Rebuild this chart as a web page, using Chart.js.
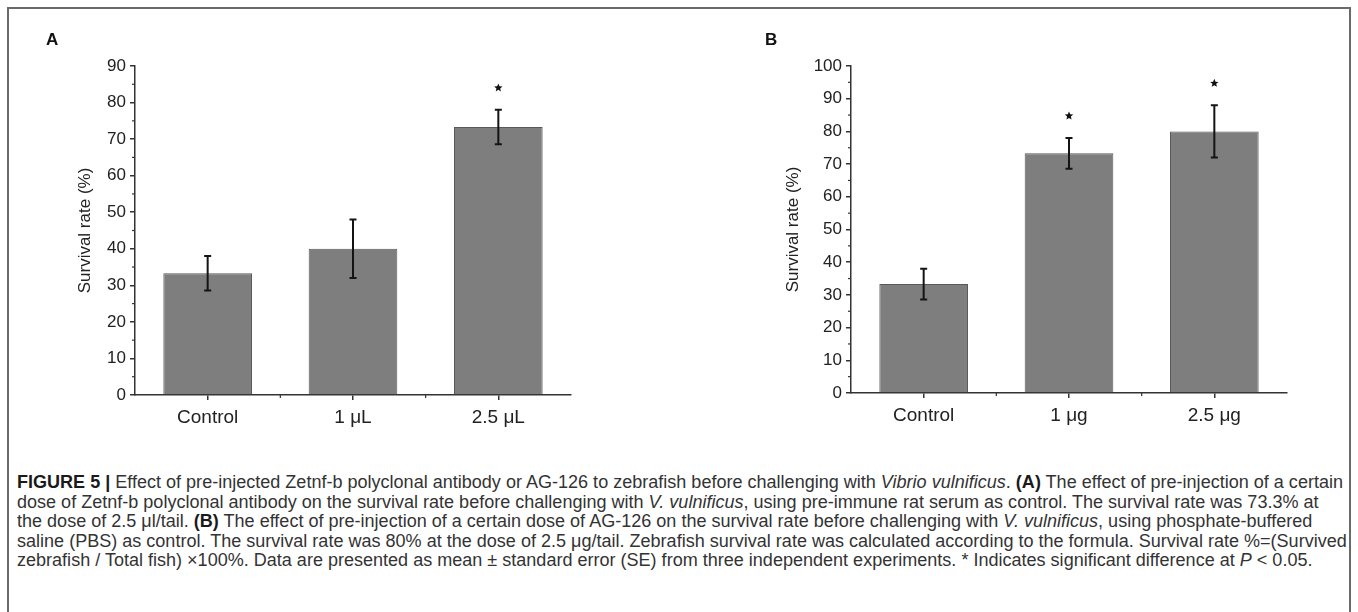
<!DOCTYPE html>
<html>
<head>
<meta charset="utf-8">
<script src="https://cdn.jsdelivr.net/npm/chart.js@4.4.1/dist/chart.umd.min.js"></script>
<style>
html, body { margin: 0; padding: 0; background: #fff; }
#page { position: relative; width: 1358px; height: 612px; overflow: hidden; background: #fff;
        font-family: "Liberation Sans", Arial, sans-serif; }
#frame { position: absolute; left: 7px; top: 7px; width: 1344px; height: 640px;
         border: 2px solid #6a6a6a; box-sizing: border-box; }
canvas { position: absolute; top: 0; }
.plabel { position: absolute; font-weight: bold; font-size: 17px; line-height: 20px; color: #111; }
.cap { position: absolute; left: 17px; white-space: nowrap; font-size: 17.5px; line-height: 19.5px;
       color: #333; transform-origin: 0 0; }
.cap b { color: #1a1a1a; }
</style>
</head>
<body>
<div id="page">
  <div id="frame"></div>
  <canvas id="chartA" width="680" height="450" style="left:0px"></canvas>
  <canvas id="chartB" width="679" height="450" style="left:679px"></canvas>
  <div class="plabel" style="left:46px; top:30px;">A</div>
  <div class="plabel" style="left:765px; top:30px;">B</div>
  <div id="caption">
    <div class="cap" style="top:473px"><b>FIGURE 5 |</b> Effect of pre-injected Zetnf-b polyclonal antibody or AG-126 to zebrafish before challenging with <i>Vibrio vulnificus</i>. <b>(A)</b> The effect of pre-injection of a certain</div>
    <div class="cap" style="top:492.5px">dose of Zetnf-b polyclonal antibody on the survival rate before challenging with <i>V. vulnificus</i>, using pre-immune rat serum as control. The survival rate was 73.3% at</div>
    <div class="cap" style="top:512px">the dose of 2.5 μl/tail. <b>(B)</b> The effect of pre-injection of a certain dose of AG-126 on the survival rate before challenging with <i>V. vulnificus</i>, using phosphate-buffered</div>
    <div class="cap" style="top:531.5px">saline (PBS) as control. The survival rate was 80% at the dose of 2.5 μg/tail. Zebrafish survival rate was calculated according to the formula. Survival rate %=(Survived</div>
    <div class="cap" style="top:551px">zebrafish / Total fish) ×100%. Data are presented as mean ± standard error (SE) from three independent experiments. * Indicates significant difference at <i>P</i> &lt; 0.05.</div>
  </div>
</div>
<script>
// ---------------- data ----------------
const categoriesA = ['Control', '1 μL', '2.5 μL'];
const survivalA = [33.3, 40.0, 73.3];
const errorA = [4.7, 8.0, 4.7];
const significantA = [false, false, true];
const yMaxA = 90;

const categoriesB = ['Control', '1 μg', '2.5 μg'];
const survivalB = [33.3, 73.3, 80.0];
const errorB = [4.7, 4.7, 8.0];
const significantB = [false, true, true];
const yMaxB = 100;

const yStep = 10;
const yTitle = 'Survival rate (%)';

const FONT = '"Liberation Sans", Arial, sans-serif';

// -------------- error bars, stars, minor ticks --------------
function drawStar(ctx, cx, cy, r, color) {
  ctx.beginPath();
  for (let k = 0; k < 10; k++) {
    const rad = k % 2 === 0 ? r : r * 0.45;
    const a = -Math.PI / 2 + k * Math.PI / 5;
    const px = cx + rad * Math.cos(a), py = cy + rad * Math.sin(a);
    if (k === 0) ctx.moveTo(px, py); else ctx.lineTo(px, py);
  }
  ctx.closePath();
  ctx.fillStyle = color;
  ctx.fill();
}

const decor = {
  id: 'decor',
  afterDatasetsDraw(chart, args, opts) {
    const { ctx, scales: { x, y }, chartArea } = chart;
    const vals = opts.values, errs = opts.errors, sig = opts.sig;
    ctx.save();
    // minor ticks on y axis
    ctx.strokeStyle = '#333';
    ctx.lineWidth = 1.2;
    for (let v = yStep / 2; v < y.max; v += yStep) {
      const py = y.getPixelForValue(v);
      ctx.beginPath();
      ctx.moveTo(chartArea.left - 3, py);
      ctx.lineTo(chartArea.left, py);
      ctx.stroke();
    }
    // minor ticks on x axis (category boundaries)
    for (let i = 0; i < vals.length - 1; i++) {
      const px = x.getPixelForValue(i + 0.5);
      ctx.beginPath();
      ctx.moveTo(px, chartArea.bottom);
      ctx.lineTo(px, chartArea.bottom + 3);
      ctx.stroke();
    }
    // error bars
    ctx.strokeStyle = '#141414';
    ctx.lineWidth = 2;
    vals.forEach((v, i) => {
      const px = x.getPixelForValue(i);
      const top = y.getPixelForValue(v + errs[i]);
      const bot = y.getPixelForValue(v - errs[i]);
      ctx.beginPath();
      ctx.moveTo(px, top); ctx.lineTo(px, bot);
      ctx.moveTo(px - 3.5, top); ctx.lineTo(px + 3.5, top);
      ctx.moveTo(px - 3.5, bot); ctx.lineTo(px + 3.5, bot);
      ctx.stroke();
      if (sig[i]) drawStar(ctx, px, top - 22, 4.4, '#111');
    });
    ctx.restore();
  }
};

function makeChart(id, cats, vals, errs, sig, yMax, L) {
  return new Chart(document.getElementById(id), {
    type: 'bar',
    data: {
      labels: cats,
      datasets: [{
        data: vals,
        backgroundColor: '#7e7e7e',
        borderColor: '#595959',
        borderWidth: 1,
        barPercentage: 0.61,
        categoryPercentage: 1
      }]
    },
    options: {
      responsive: false,
      animation: false,
      devicePixelRatio: 1,
      layout: { padding: { left: L.padLeft, right: L.padRight, top: L.padTop, bottom: 0 } },
      plugins: {
        legend: { display: false },
        tooltip: { enabled: false },
        decor: { values: vals, errors: errs, sig: sig }
      },
      scales: {
        x: {
          offset: true,
          grid: { display: true, drawOnChartArea: false, drawTicks: true, tickLength: 5,
                  offset: false, color: '#333', lineWidth: 1.5 },
          border: { display: true, color: '#333', width: 1.5 },
          ticks: { color: '#222', font: { family: FONT, size: 19 }, padding: 6,
                   maxRotation: 0, autoSkip: false },
          afterFit(s) { s.height = L.xHeight; }
        },
        y: {
          min: 0, max: yMax,
          grid: { drawOnChartArea: false, drawTicks: true, tickLength: 5, color: '#333', lineWidth: 1.5 },
          border: { display: true, color: '#333', width: 1.5 },
          ticks: { stepSize: yStep, color: '#222', font: { family: FONT, size: 17 }, padding: 4 },
          title: { display: true, text: yTitle, color: '#222', font: { family: FONT, size: 17 },
                   padding: { top: L.titlePad, bottom: 0 } },
          afterFit(s) { s.width = L.yWidth; }
        }
      }
    },
    plugins: [decor]
  });
}

makeChart('chartA', categoriesA, survivalA, errorA, significantA, yMaxA,
  { padLeft: 65, yWidth: 70, padRight: 109, padTop: 66, xHeight: 55, titlePad: 9.8 });
makeChart('chartB', categoriesB, survivalB, errorB, significantB, yMaxB,
  { padLeft: 94, yWidth: 78, padRight: 71, padTop: 66, xHeight: 57, titlePad: 9.8 });

// fit caption lines to the column width
function fitCaption() {
  const lines = document.querySelectorAll('.cap');
  lines.forEach(l => l.style.transform = 'none');
  const w0 = lines[0].getBoundingClientRect().width;
  const s = 1326 / w0;
  lines.forEach(l => l.style.transform = 'scaleX(' + s + ')');
}
fitCaption();
if (document.fonts && document.fonts.ready) document.fonts.ready.then(fitCaption);
</script>
</body>
</html>
